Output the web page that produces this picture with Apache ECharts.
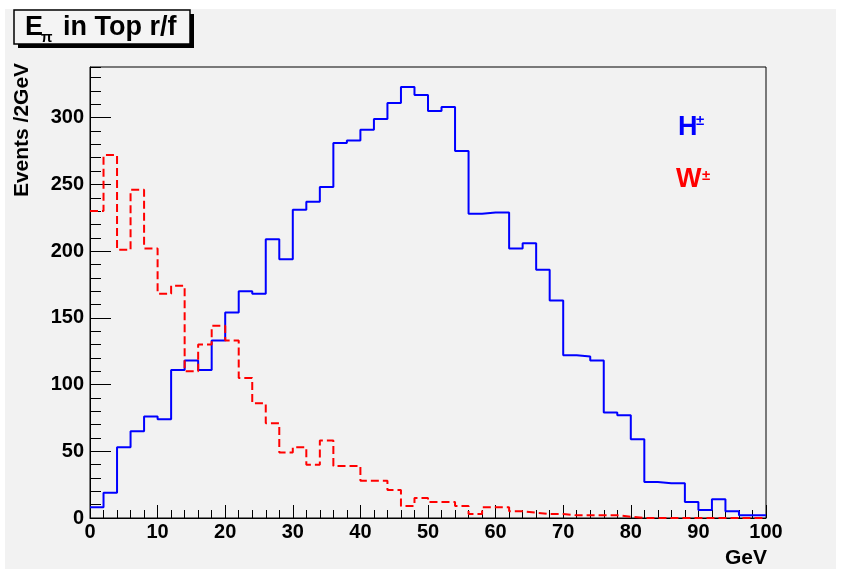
<!DOCTYPE html>
<html>
<head>
<meta charset="utf-8">
<script src="https://cdn.jsdelivr.net/npm/echarts@6/dist/echarts.min.js"></script>
<style>
  html, body { margin: 0; padding: 0; background: #ffffff; }
  #panel { position: absolute; left: 5px; top: 9px; width: 831px; height: 560px; background: #f2f2f2; }
  #chart { position: absolute; left: 0; top: 0; width: 841px; height: 571px; }
</style>
</head>
<body>
<div id="panel"></div>
<div id="chart"></div>
<script>
// Histogram binning (GeV)
const BIN_WIDTH = 2;
const X_MIN = 0;
const X_MAX = 100;
const Y_MAX = 338;

// Entries per 2 GeV bin, bins 0-2, 2-4, ... 98-100
const hPlusCounts = [
  8, 19, 53, 65, 76, 74, 111, 118, 111, 133,
  154, 170, 168, 209, 194, 231, 237, 248, 281, 283,
  291, 299, 311, 323, 317, 305, 308, 275, 228, 229,
  229, 202, 206, 186, 163, 122, 121, 118, 79, 77,
  59, 27, 26, 26, 12, 6, 14, 5, 2, 2
];
const wPlusCounts = [
  230, 272, 201, 246, 202, 168, 174, 110, 130, 144,
  133, 105, 86, 71, 49, 53, 40, 58, 39, 39,
  28, 28, 21, 9, 15, 12, 12, 9, 3, 8,
  8, 5, 4, 3, 3, 2, 2, 2, 2, 1,
  0, 0, 0, 0, 0, 0, 0, 0, 0, 0
];

// Axis tick labels
const xTickLabels = ['0', '10', '20', '30', '40', '50', '60', '70', '80', '90', '100'];
const yTickLabels = ['0', '50', '100', '150', '200', '250', '300'];

// Turn bin contents into step-line vertices: left edge of each bin, plus the final right edge
function stepPoints(counts) {
  const pts = counts.map((v, i) => [X_MIN + i * BIN_WIDTH, v]);
  pts.push([X_MAX, counts[counts.length - 1]]);
  return pts;
}

const FONT = '"Liberation Sans", Arial, Helvetica, sans-serif';
const chart = echarts.init(document.getElementById('chart'), null, { renderer: 'canvas' });

const option = {
  animation: false,
  backgroundColor: 'transparent',
  textStyle: { fontFamily: FONT },
  grid: {
    left: 90, right: 75, top: 67, bottom: 53,
    show: true, borderColor: '#000', borderWidth: 1, backgroundColor: 'transparent'
  },
  xAxis: {
    type: 'value', min: X_MIN, max: X_MAX, interval: 10,
    axisLine: { show: true, onZero: false, lineStyle: { color: '#000', width: 1 } },
    axisTick: { show: true, inside: true, length: 13, lineStyle: { color: '#000', width: 1 } },
    minorTick: { show: true, splitNumber: 5, length: 8, lineStyle: { color: '#000', width: 1 } },
    splitLine: { show: false },
    axisLabel: {
      color: '#000', fontSize: 20, fontWeight: 'bold', fontFamily: FONT, margin: 4,
      formatter: v => xTickLabels[Math.round(v / 10)] ?? ''
    }
  },
  yAxis: [
    {
      type: 'value', min: 0, max: Y_MAX, interval: 50, position: 'left',
      axisLine: { show: true, onZero: false, lineStyle: { color: '#000', width: 1 } },
      axisTick: { show: true, inside: true, length: 21, lineStyle: { color: '#000', width: 1 } },
      splitLine: { show: false },
      axisLabel: {
        color: '#000', fontSize: 20, fontWeight: 'bold', fontFamily: FONT, margin: 6,
        showMaxLabel: false, padding: [0, 0, 8, 0],
        formatter: v => (v % 50 === 0 ? (yTickLabels[v / 50] ?? '') : '')
      }
    },
    {
      // minor ticks every 10 events
      type: 'value', min: 0, max: Y_MAX, interval: 10, position: 'left',
      axisLine: { show: false },
      axisTick: { show: true, inside: true, length: 11, lineStyle: { color: '#000', width: 1 } },
      splitLine: { show: false },
      axisLabel: { show: false }
    }
  ],
  series: [
    {
      name: 'H±', type: 'line', step: 'end', yAxisIndex: 0,
      data: stepPoints(hPlusCounts),
      showSymbol: false, silent: true, z: 3,
      lineStyle: { color: '#0000ff', width: 2 }
    },
    {
      name: 'W±', type: 'line', step: 'end', yAxisIndex: 0,
      data: stepPoints(wPlusCounts),
      showSymbol: false, silent: true, z: 4,
      lineStyle: { color: '#ff0000', width: 2, type: [8, 4] }
    }
  ],
  graphic: [
    // title box with drop shadow
    { type: 'rect', shape: { x: 18, y: 14, width: 176, height: 34 }, style: { fill: '#000' }, z: 10 },
    { type: 'rect', shape: { x: 14, y: 10, width: 176, height: 34 }, style: { fill: '#f4f4f4', stroke: '#000', lineWidth: 1.5 }, z: 11 },
    { type: 'text', x: 25, y: 27.5, z: 12, style: { text: 'E', font: 'bold 27px ' + FONT, fill: '#000', align: 'left', verticalAlign: 'middle' } },
    { type: 'text', x: 41, y: 38, z: 12, style: { text: 'π', font: 'bold 15px ' + FONT, fill: '#000', align: 'left', verticalAlign: 'middle' } },
    { type: 'text', x: 63, y: 27.5, z: 12, style: { text: 'in Top r/f', font: 'bold 27px ' + FONT, fill: '#000', align: 'left', verticalAlign: 'middle' } },
    // series labels
    { type: 'text', x: 678, y: 128, z: 12, style: { text: 'H', font: 'bold 27px ' + FONT, fill: '#0000ff', align: 'left', verticalAlign: 'middle' } },
    { type: 'text', x: 696, y: 121, z: 12, style: { text: '±', font: 'bold 15px ' + FONT, fill: '#0000ff', align: 'left', verticalAlign: 'middle' } },
    { type: 'text', x: 676, y: 180, z: 12, style: { text: 'W', font: 'bold 27px ' + FONT, fill: '#ff0000', align: 'left', verticalAlign: 'middle' } },
    { type: 'text', x: 702, y: 175.5, z: 12, style: { text: '±', font: 'bold 15px ' + FONT, fill: '#ff0000', align: 'left', verticalAlign: 'middle' } },
    // axis titles
    { type: 'text', x: 22.5, y: 130, rotation: Math.PI / 2, z: 12, style: { text: 'Events /2GeV', font: 'bold 21px ' + FONT, fill: '#000', align: 'center', verticalAlign: 'middle' } },
    { type: 'text', x: 767, y: 558, z: 12, style: { text: 'GeV', font: 'bold 21px ' + FONT, fill: '#000', align: 'right', verticalAlign: 'middle' } }
  ]
};

chart.setOption(option);
</script>
</body>
</html>
